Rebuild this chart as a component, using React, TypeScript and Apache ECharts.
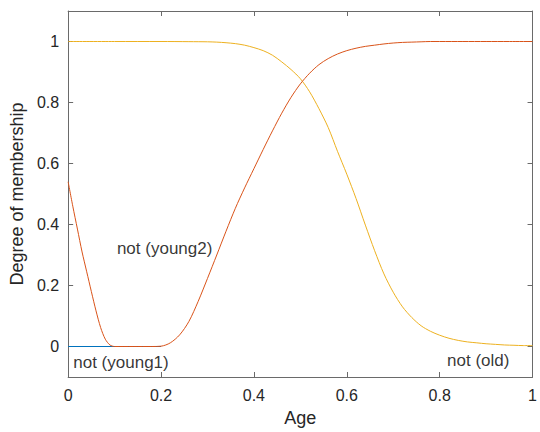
import React, { useEffect, useRef } from "react";
import * as echarts from "echarts";

const xTicks = [0, 0.2, 0.4, 0.6, 0.8, 1];
const yTicks = [0, 0.2, 0.4, 0.6, 0.8, 1];

// not (young1): flat zero segment
const young1: [number, number][] = [
  [0, 0],
  [0.2, 0],
];

// not (young2)
const young2: [number, number][] = [
  [0, 0.54], [0.01, 0.46], [0.02, 0.385], [0.03, 0.31], [0.04, 0.245],
  [0.05, 0.18], [0.06, 0.117], [0.07, 0.062], [0.08, 0.024], [0.09, 0.005],
  [0.1, 0], [0.12, 0], [0.14, 0], [0.16, 0], [0.18, 0], [0.2, 0.001],
  [0.22, 0.012], [0.24, 0.038], [0.26, 0.082], [0.28, 0.148], [0.3, 0.223],
  [0.32, 0.3], [0.34, 0.378], [0.36, 0.453], [0.38, 0.52], [0.4, 0.583],
  [0.42, 0.646], [0.44, 0.707], [0.46, 0.765], [0.48, 0.817], [0.5, 0.861],
  [0.52, 0.896], [0.54, 0.924], [0.56, 0.944], [0.58, 0.959], [0.6, 0.97],
  [0.62, 0.978], [0.64, 0.984], [0.66, 0.988], [0.68, 0.992], [0.7, 0.995],
  [0.72, 0.997], [0.74, 0.998], [0.76, 0.999], [0.78, 1], [0.8, 1],
  [0.85, 1], [0.9, 1], [0.95, 1], [1, 1],
];

// not (old)
const old: [number, number][] = [
  [0, 1], [0.1, 1], [0.2, 1], [0.26, 0.9995], [0.3, 0.999], [0.32, 0.998],
  [0.34, 0.996], [0.36, 0.993], [0.38, 0.988], [0.4, 0.98], [0.42, 0.97],
  [0.44, 0.955], [0.46, 0.933], [0.48, 0.908], [0.5, 0.878], [0.52, 0.835],
  [0.54, 0.78], [0.56, 0.718], [0.58, 0.64], [0.6, 0.565], [0.62, 0.485],
  [0.64, 0.398], [0.66, 0.314], [0.68, 0.238], [0.7, 0.178], [0.72, 0.13],
  [0.74, 0.095], [0.76, 0.068], [0.78, 0.05], [0.8, 0.037], [0.82, 0.027],
  [0.84, 0.02], [0.86, 0.015], [0.88, 0.012], [0.9, 0.009], [0.92, 0.007],
  [0.94, 0.005], [0.96, 0.004], [0.98, 0.003], [1, 0.003],
];

const annotations = [
  { name: "not (young1)", value: [0.011, -0.052] },
  { name: "not (young2)", value: [0.105, 0.3225] },
  { name: "not (old)", value: [0.816, -0.046] },
];

const FONT = "'Liberation Sans', Arial, Helvetica, sans-serif";
const AXIS_COLOR = "#6a6a6a";
const TEXT_COLOR = "#262626";

export default function App() {
  const ref = useRef<HTMLDivElement>(null);
  useEffect(() => {
    if (!ref.current) return;
    const chart = echarts.init(ref.current, null, { renderer: "svg" });
    const fmt = (v: number) => {
      const r = Math.round(v * 10) / 10;
      return String(r);
    };
    const commonX = {
      type: "value" as const,
      min: 0,
      max: 1,
      axisLine: { show: true, onZero: false, lineStyle: { color: AXIS_COLOR, width: 1 } },
      splitLine: { show: false },
    };
    const commonY = {
      type: "value" as const,
      min: -0.1,
      max: 1.1,
      axisLine: { show: true, onZero: false, lineStyle: { color: AXIS_COLOR, width: 1 } },
      splitLine: { show: false },
    };
    const lineCommon = {
      type: "line" as const,
      showSymbol: false,
      smooth: 0.3,
    };
    chart.setOption({
      animation: false,
      backgroundColor: "#ffffff",
      grid: { left: 68, right: 3, top: 11, bottom: 54, containLabel: false },
      xAxis: [
        {
          ...commonX,
          position: "bottom",
          axisTick: { show: true, inside: true, length: 5, customValues: xTicks, lineStyle: { color: AXIS_COLOR } },
          axisLabel: {
            show: true,
            customValues: xTicks,
            formatter: fmt,
            color: TEXT_COLOR,
            fontSize: 16,
            fontFamily: FONT,
            margin: 10,
          },
          name: "Age",
          nameLocation: "middle",
          nameGap: 32,
          nameTextStyle: { color: TEXT_COLOR, fontSize: 18, fontFamily: FONT },
        },
        {
          ...commonX,
          position: "top",
          axisTick: { show: true, inside: true, length: 5, customValues: xTicks, lineStyle: { color: AXIS_COLOR } },
          axisLabel: { show: false },
        },
      ],
      yAxis: [
        {
          ...commonY,
          position: "left",
          axisTick: { show: true, inside: true, length: 5, customValues: yTicks, lineStyle: { color: AXIS_COLOR } },
          axisLabel: {
            show: true,
            customValues: yTicks,
            formatter: fmt,
            color: TEXT_COLOR,
            fontSize: 16,
            fontFamily: FONT,
            margin: 9,
          },
          name: "Degree of membership",
          nameLocation: "middle",
          nameGap: 36,
          nameTextStyle: { color: TEXT_COLOR, fontSize: 18, fontFamily: FONT },
        },
        {
          ...commonY,
          position: "right",
          axisTick: { show: true, inside: true, length: 5, customValues: yTicks, lineStyle: { color: AXIS_COLOR } },
          axisLabel: { show: false },
        },
      ],
      series: [
        {
          ...lineCommon,
          name: "not (young1)",
          data: young1,
          smooth: false,
          lineStyle: { color: "#0072BD", width: 1 },
          z: 2,
        },
        {
          ...lineCommon,
          name: "not (old)",
          data: old,
          lineStyle: { color: "#EDB120", width: 1 },
          z: 3,
        },
        {
          ...lineCommon,
          name: "not (young2)",
          data: young2,
          lineStyle: { color: "#D95319", width: 1 },
          z: 4,
        },
        {
          name: "labels",
          type: "scatter",
          data: annotations,
          symbolSize: 0,
          silent: true,
          z: 5,
          label: {
            show: true,
            position: "right",
            distance: 0,
            formatter: "{b}",
            color: "#000000",
            fontSize: 17,
            fontFamily: FONT,
          },
        },
      ],
    });
    return () => chart.dispose();
  }, []);
  return (
    <div
      ref={ref}
      style={{ position: "fixed", left: 0, top: 0, width: 540, height: 432 }}
    />
  );
}
